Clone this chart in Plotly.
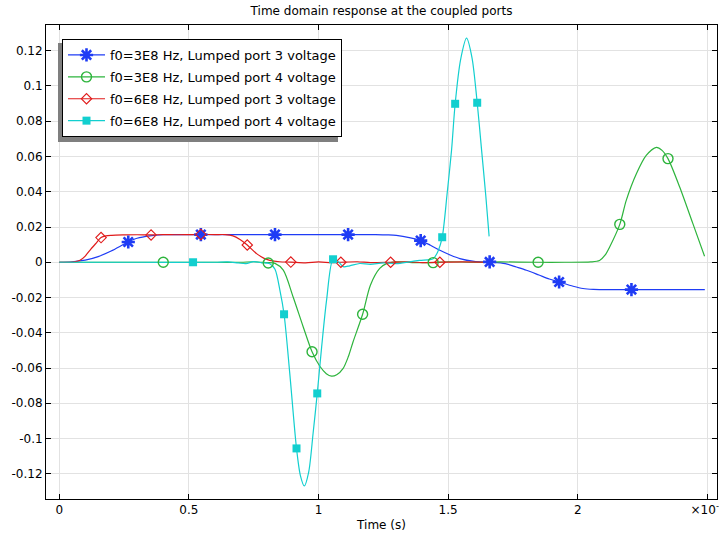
import plotly.graph_objects as go

# ---------------- data (time in units of 1e-9 s) ----------------
blue_t = [0, 0.05, 0.10, 0.15, 0.20, 0.266, 0.30, 0.35, 0.40, 0.45, 0.50, 0.70, 0.90,
          1.10, 1.22, 1.27, 1.30, 1.35, 1.394, 1.43, 1.468, 1.51, 1.545, 1.60, 1.66,
          1.72, 1.763, 1.802, 1.85, 1.89, 1.928, 1.982, 2.02, 2.06, 2.10, 2.30, 2.49]
blue_v = [0, 0.0003, 0.0012, 0.0032, 0.0064, 0.0115, 0.0136, 0.0150, 0.0156, 0.0157, 0.0157, 0.0157, 0.0157,
          0.0157, 0.0157, 0.0155, 0.0152, 0.0140, 0.0123, 0.0098, 0.0068, 0.0040, 0.0021, 0.0005, 0.0,
          -0.0008, -0.0027, -0.0045, -0.0072, -0.0095, -0.0112, -0.0136, -0.0149, -0.0154, -0.0155, -0.0155, -0.0155]
blue_mt = [0.266, 0.546, 0.832, 1.114, 1.394, 1.660, 1.928, 2.207]
blue_mv = [0.0115, 0.0157, 0.0157, 0.0157, 0.0123, 0.0002, -0.0112, -0.0155]

green_t = [0, 0.30, 0.60, 0.70, 0.75, 0.80, 0.832, 0.864, 0.902, 0.941, 0.975, 1.005, 1.03, 1.050,
           1.07, 1.095, 1.115, 1.133, 1.170, 1.20, 1.236, 1.262, 1.30, 1.38, 1.442, 1.50, 1.60,
           1.70, 1.847, 1.95, 2.05, 2.084, 2.105, 2.123, 2.162, 2.187, 2.226, 2.264, 2.303,
           2.325, 2.348, 2.393, 2.444, 2.489]
green_v = [0, 0, 0, 0, 0.0003, -0.0002, -0.0006, -0.0045, -0.0197, -0.0367, -0.0508, -0.0590, -0.0632, -0.0646,
           -0.0638, -0.0602, -0.0535, -0.0452, -0.0295, -0.0130, -0.0035, -0.0008, 0.0002, -0.0002, -0.0002, 0.0003, 0.0,
           0.0002, 0.0, 0.0, 0.0002, 0.0010, 0.0040, 0.0087, 0.0215, 0.0351, 0.0502, 0.0606, 0.0652,
           0.0635, 0.0588, 0.0427, 0.0219, 0.0034]
green_mt = [0.401, 0.806, 0.975, 1.170, 1.442, 1.847, 2.162, 2.348]
green_mv = [0, -0.0004, -0.0508, -0.0295, -0.0002, 0, 0.0215, 0.0588]

red_t = [0, 0.03, 0.06, 0.08, 0.10, 0.118, 0.14, 0.161, 0.18, 0.202, 0.25, 0.30, 0.354, 0.40, 0.45,
         0.50, 0.546, 0.60, 0.64, 0.67, 0.697, 0.725, 0.761, 0.79, 0.812, 0.85, 0.893, 0.95, 1.0,
         1.05, 1.086, 1.15, 1.20, 1.278, 1.35, 1.40, 1.468, 1.55, 1.654]
red_v = [0, 0, 0.0003, 0.0011, 0.0035, 0.0068, 0.0105, 0.0140, 0.0150, 0.0153, 0.0155, 0.0156, 0.0155, 0.0157, 0.0156,
         0.0157, 0.0158, 0.0157, 0.0157, 0.0150, 0.0129, 0.0098, 0.0049, 0.0022, 0.0011, 0.0003, 0.0001, -0.0003, 0.0002,
         -0.0002, 0.0, 0.0003, -0.0002, 0.0, 0.0002, -0.0002, 0.0, 0.0002, 0.0]
red_mt = [0.161, 0.354, 0.546, 0.725, 0.893, 1.086, 1.278, 1.468]
red_mv = [0.0140, 0.0155, 0.0158, 0.0098, 0.0001, 0.0, 0.0, 0.0]

cyan_t = [0, 0.30, 0.60, 0.65, 0.69, 0.72, 0.75, 0.78, 0.812, 0.832, 0.851, 0.867, 0.889, 0.915, 0.930,
          0.945, 0.962, 0.979, 0.995, 1.012, 1.031, 1.056, 1.075, 1.095, 1.12, 1.159, 1.20, 1.25, 1.30,
          1.35, 1.39, 1.442, 1.460, 1.477, 1.496, 1.513, 1.527, 1.548, 1.571, 1.592, 1.612, 1.629, 1.645, 1.658]
cyan_v = [0, 0, 0, 0.0002, -0.0004, -0.0008, 0.0004, -0.0003, -0.0008, -0.0040, -0.0159, -0.0295, -0.0630, -0.1056, -0.1210,
          -0.1269, -0.1190, -0.0970, -0.0744, -0.0480, -0.0215, 0.0017, 0.0005, -0.0025, -0.0020, -0.0007, -0.0012, -0.0003, -0.0008,
          0.0002, 0.0011, 0.0020, 0.0060, 0.0142, 0.0390, 0.0635, 0.0899, 0.1150, 0.1271, 0.1160, 0.0905, 0.0635, 0.0380, 0.0147]
cyan_mt = [0.516, 0.867, 0.915, 0.995, 1.056, 1.477, 1.527, 1.612]
cyan_mv = [0, -0.0295, -0.1056, -0.0744, 0.0017, 0.0142, 0.0899, 0.0905]

series_names = ["f0=3E8 Hz, Lumped port 3 voltage", "f0=3E8 Hz, Lumped port 4 voltage",
                "f0=6E8 Hz, Lumped port 3 voltage", "f0=6E8 Hz, Lumped port 4 voltage"]

y_tickvals = [-0.12, -0.10, -0.08, -0.06, -0.04, -0.02, 0, 0.02, 0.04, 0.06, 0.08, 0.10, 0.12]
y_ticktext = ["-0.12", "-0.1", "-0.08", "-0.06", "-0.04", "-0.02", "0", "0.02", "0.04", "0.06", "0.08", "0.1", "0.12"]
x_tickvals = [0, 0.5, 1, 1.5, 2, 2.5]
x_ticktext = ["0", "0.5", "1", "1.5", "2", "×10<sup>-9</sup>"]

# ---------------- styles ----------------
FONT = "DejaVu Sans"
styles = [
    dict(color="#1f3cf5", symbol="asterisk-open", size=11, lw=2.6),
    dict(color="#2db43c", symbol="circle-open", size=10, lw=1.4),
    dict(color="#e01b1b", symbol="diamond-open", size=8, lw=1.1),
    dict(color="#12cfcf", symbol="square", size=8, lw=0),
]
lines = [(blue_t, blue_v, blue_mt, blue_mv), (green_t, green_v, green_mt, green_mv),
         (red_t, red_v, red_mt, red_mv), (cyan_t, cyan_v, cyan_mt, cyan_mv)]

fig = go.Figure()
for (t, v, mt, mv), st in zip(lines, styles):
    fig.add_trace(go.Scatter(x=t, y=v, mode="lines", showlegend=False, hoverinfo="skip",
                             line=dict(color=st["color"], width=1.2, shape="spline", smoothing=0.8)))
for (t, v, mt, mv), st in zip(lines, styles):
    mk = dict(color=st["color"], symbol=st["symbol"], size=st["size"])
    if st["lw"]:
        mk["line"] = dict(color=st["color"], width=st["lw"])
    fig.add_trace(go.Scatter(x=mt, y=mv, mode="markers", showlegend=False, marker=mk))
for name, st in zip(series_names, styles):
    mk = dict(color=st["color"], symbol=st["symbol"], size=st["size"])
    if st["lw"]:
        mk["line"] = dict(color=st["color"], width=st["lw"])
    fig.add_trace(go.Scatter(x=[None], y=[None], mode="lines+markers", name=name, legendgroup=name,
                             line=dict(color=st["color"], width=1.2), marker=mk))

# legend shadow (pixel -> paper)
L, R, T, B = 46, 717, 25, 499
W, H = R - L, B - T
def px(x): return (x - L) / W
def py(y): return 1 - (y - T) / H

fig.add_shape(type="rect", xref="paper", yref="paper", x0=px(58), x1=px(338), y0=py(142), y1=py(43),
              fillcolor="#7f7f7f", line=dict(width=0), layer="above")

axis_common = dict(showline=True, linecolor="black", linewidth=1, mirror="ticks", ticks="inside",
                   ticklen=5, tickcolor="black", showgrid=True, gridcolor="#e2e2e2", gridwidth=1,
                   zeroline=False, automargin=False, tickfont=dict(family=FONT, size=12, color="black"))

fig.update_layout(
    width=719, height=538, autosize=False,
    margin=dict(l=L, r=719 - R, t=T, b=538 - B, autoexpand=False),
    paper_bgcolor="white", plot_bgcolor="white",
    font=dict(family=FONT, size=12, color="black"),
    title=dict(text="Time domain response at the coupled ports", x=(L + R) / 2 / 719, xanchor="center",
               y=1 - 11 / 538, yanchor="middle", font=dict(family=FONT, size=12, color="black")),
    xaxis=dict(range=[-0.0513, 2.537], tickvals=x_tickvals, ticktext=x_ticktext,
               ticklabeloverflow="allow",
               title=dict(text="Time (s)", font=dict(family=FONT, size=12), standoff=4), **axis_common),
    yaxis=dict(range=[-0.1343, 0.1346], tickvals=y_tickvals, ticktext=y_ticktext, **axis_common),
    legend=dict(x=px(62), y=py(39), xanchor="left", yanchor="top", bgcolor="white",
                bordercolor="black", borderwidth=1, font=dict(family=FONT, size=13, color="black"),
                tracegroupgap=2, traceorder="grouped", itemwidth=37),
    showlegend=True,
)

fig.write_html("out.html", config={"displayModeBar": False},
               post_script="document.body.style.margin='0';document.body.style.overflow='hidden';")
